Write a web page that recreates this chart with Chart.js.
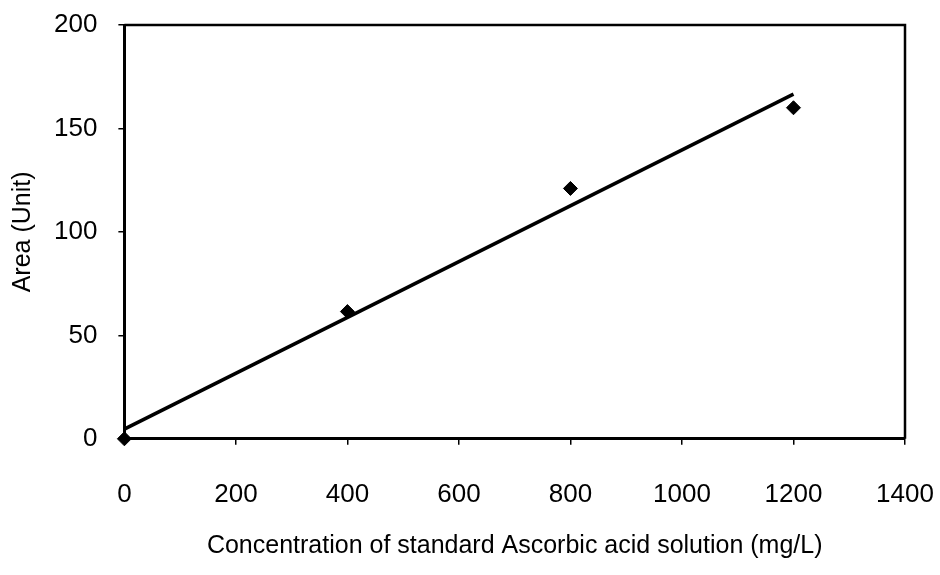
<!DOCTYPE html>
<html>
<head>
<meta charset="utf-8">
<script src="https://cdn.jsdelivr.net/npm/chart.js@4"></script>
<style>
  html, body { margin: 0; padding: 0; background: #fff; }
  #wrap { width: 940px; height: 575px; }
</style>
</head>
<body>
<div id="wrap"><canvas id="calChart"></canvas></div>
<script>
// standard curve data
const concentrations = [0, 400, 800, 1200];
const areas = [0, 61.5, 121, 160];

// linear trend line endpoints
const trendX = [0, 1200];
const trendY = [4.7, 166.6];

const xTicks = [0, 200, 400, 600, 800, 1000, 1200, 1400];
const yTicks = [0, 50, 100, 150, 200];

const points = concentrations.map((c, i) => ({ x: c, y: areas[i] }));
const trend = trendX.map((c, i) => ({ x: c, y: trendY[i] }));

// draw the top and right frame of the plot area
const frame = {
    id: 'frame',
    afterDraw(chart) {
        const { ctx, chartArea: a } = chart;
        ctx.save();
        ctx.strokeStyle = '#000';
        ctx.lineWidth = 2.5;
        ctx.beginPath();
        ctx.moveTo(a.left, a.top);
        ctx.lineTo(a.right, a.top);
        ctx.lineTo(a.right, a.bottom);
        ctx.stroke();
        ctx.restore();
    }
};

const family = 'Liberation Sans, Arial, sans-serif';
const tickFont = { family: family, size: 26 };
const titleFont = { family: family, size: 25 };

const config = {
    type: 'scatter',
    data: {
        datasets: [
            {
                label: 'Trend',
                data: trend,
                showLine: true,
                borderColor: '#000',
                borderWidth: 3.5,
                pointRadius: 0,
                order: 2
            },
            {
                label: 'Area',
                data: points,
                pointStyle: 'rectRot',
                pointRadius: 7,
                backgroundColor: '#000',
                borderColor: '#000',
                clip: false,
                order: 1
            }
        ]
    },
    options: {
        responsive: true,
        maintainAspectRatio: false,
        animation: false,
        layout: { padding: { left: 4, right: 0, top: 0, bottom: 14 } },
        plugins: {
            legend: { display: false },
            tooltip: { enabled: false }
        },
        scales: {
            x: {
                type: 'linear',
                min: 0,
                max: 1400,
                afterBuildTicks: s => { s.ticks = xTicks.map(v => ({ value: v })); },
                afterFit: s => { s.paddingRight = 35; },
                ticks: { color: '#000', font: tickFont, padding: 34, maxRotation: 0, callback: v => String(v) },
                grid: { drawOnChartArea: false, drawTicks: true, tickLength: 6, color: '#000', lineWidth: 1.5 },
                border: { color: '#000', width: 3 },
                title: {
                    display: true,
                    text: 'Concentration of standard Ascorbic acid solution (mg/L)',
                    color: '#000',
                    font: titleFont,
                    padding: { top: -13, bottom: 0 }
                }
            },
            y: {
                type: 'linear',
                min: 0,
                max: 200,
                afterBuildTicks: s => { s.ticks = yTicks.map(v => ({ value: v })); },
                afterFit: s => { s.paddingTop = 25; },
                ticks: { color: '#000', font: tickFont, padding: 21 },
                grid: { drawOnChartArea: false, drawTicks: true, tickLength: 6, color: '#000', lineWidth: 1.5 },
                border: { color: '#000', width: 3 },
                title: {
                    display: true,
                    text: 'Area (Unit)',
                    color: '#000',
                    font: titleFont,
                    padding: { top: 4, bottom: -5 }
                }
            }
        }
    },
    plugins: [frame]
};

const ctx = document.getElementById('calChart').getContext('2d');
const calChart = new Chart(ctx, config);
</script>
</body>
</html>
